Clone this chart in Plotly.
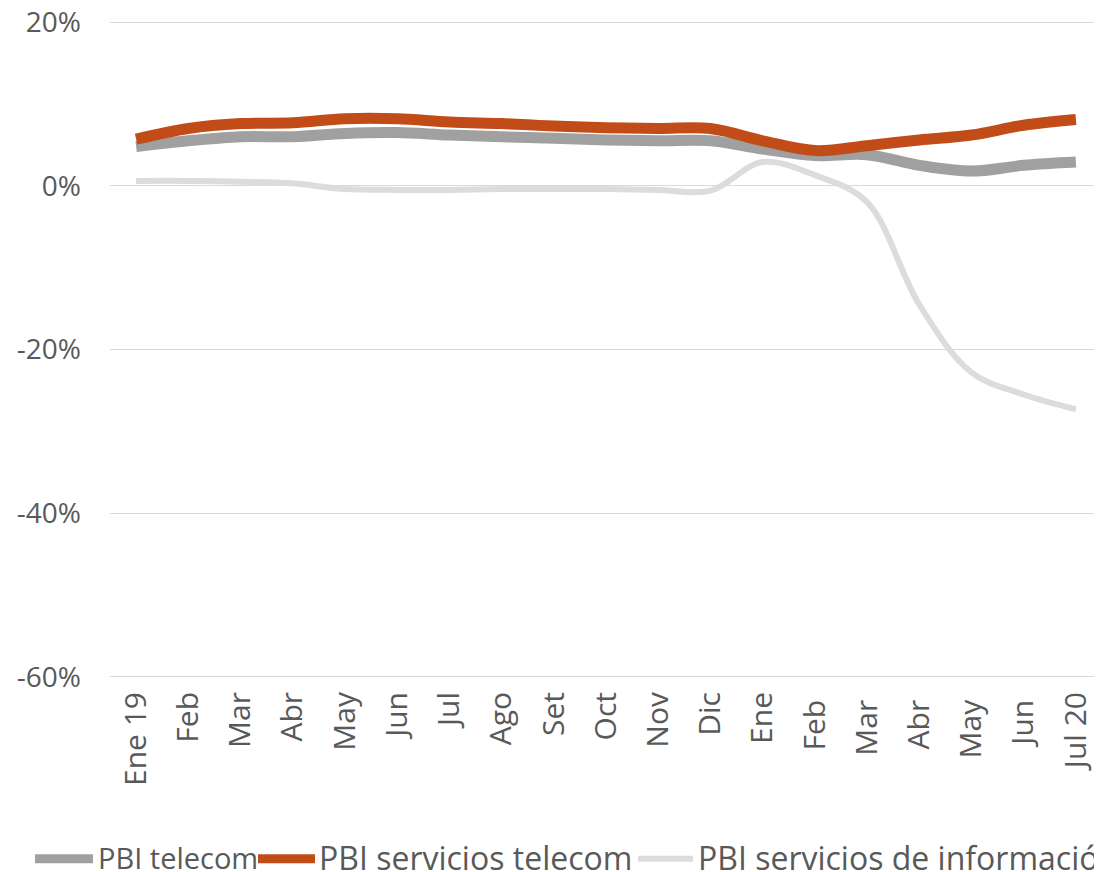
import plotly.graph_objects as go

months = ["Ene 19", "Feb", "Mar", "Abr", "May", "Jun", "Jul", "Ago", "Set", "Oct",
          "Nov", "Dic", "Ene", "Feb ", "Mar ", "Abr ", "May ", "Jun ", "Jul 20"]

pbi_telecom = [4.8, 5.5, 6.0, 6.0, 6.4, 6.5, 6.2, 6.0, 5.8, 5.6,
               5.5, 5.5, 4.5, 3.7, 3.8, 2.5, 1.8, 2.5, 2.9]
pbi_serv_telecom = [5.7, 7.0, 7.6, 7.7, 8.2, 8.2, 7.8, 7.6, 7.3, 7.1,
                    7.0, 7.0, 5.5, 4.3, 4.9, 5.6, 6.2, 7.4, 8.1]
pbi_serv_info = [0.6, 0.6, 0.5, 0.3, -0.4, -0.5, -0.5, -0.4, -0.4, -0.4,
                 -0.5, -0.6, 2.9, 1.3, -2.0, -14.5, -22.8, -25.5, -27.3]

y_ticks = [20, 0, -20, -40, -60]
y_labels = ["20%", "0%", "-20%", "-40%", "-60%"]

series_names = ["PBI telecom", "PBI servicios telecom", "PBI servicios de información"]
series_colors = ["#A0A0A0", "#C14C18", "#DCDCDC"]
series_widths = [11, 11, 6]

FONT = "Open Sans"
TXT = "#595959"

# the page body has an 8px margin, so the figure is 8px smaller and everything
# is laid out in coordinates shifted by 8px
OFF = 8
W, H = 1102 - OFF, 872 - OFF

fig = go.Figure()
for vals, name, col, w in zip([pbi_telecom, pbi_serv_telecom, pbi_serv_info],
                              series_names, series_colors, series_widths):
    fig.add_trace(go.Scatter(x=months, y=vals, name=name, mode="lines",
                             line=dict(color=col, width=w, shape="spline"),
                             showlegend=False))

# 20% sits at y=22 and -60% at y=677 in the reference; pad the y range a bit
# so the end gridlines are not dropped at the plot edges
Y0, Y1, PAD = -60, 20, 0.5
k = (677 - 22) / (Y1 - Y0)
top_px = 22 - PAD * k
bot_px = 677 + PAD * k
L, R = 110 - OFF, W
T, B = top_px - OFF, bot_px - OFF

def px(p):
    return (p - OFF - L) / (R - L)
def py(p):
    return (B - (p - OFF)) / (B - T)

# legend drawn by hand so it can run off the right edge like the original
leg_y = 859
leg_items = [(35, 93, 96), (258, 315, 317), (638, 693, 696)]
leg_widths = [9, 9, 6]
leg_sizes = [29, 32, 32]
for (x0, x1, tx), name, col, w, fs in zip(leg_items, series_names, series_colors,
                                          leg_widths, leg_sizes):
    fig.add_shape(type="line", xref="paper", yref="paper",
                  x0=px(x0), x1=px(x1), y0=py(leg_y), y1=py(leg_y),
                  line=dict(color=col, width=w))
    fig.add_annotation(xref="paper", yref="paper", x=px(tx), y=py(leg_y - 1),
                       text=name, showarrow=False, xanchor="left", yanchor="middle",
                       font=dict(family=FONT, size=fs, color=TXT))

fig.update_layout(
    width=W, height=H,
    margin=dict(l=L, r=0, t=T, b=H - B, autoexpand=False),
    paper_bgcolor="white", plot_bgcolor="white",
    font=dict(family=FONT, size=28, color=TXT),
    showlegend=False,
)
fig.update_xaxes(type="category", range=[-0.5, len(months) - 0.5], tickangle=-90,
                 showgrid=False, showline=False, ticks="", automargin=False,
                 tickfont=dict(size=30, color=TXT), ticklabelstandoff=4)
fig.update_yaxes(range=[Y0 - PAD, Y1 + PAD], tickmode="array", tickvals=y_ticks,
                 ticktext=y_labels, ticklabeloverflow="allow", automargin=False,
                 showline=False, gridcolor="#D9D9D9", gridwidth=1.3, zeroline=False,
                 ticks="", ticklabelstandoff=28, tickfont=dict(size=28, color=TXT))

fig.write_html("out.html")
